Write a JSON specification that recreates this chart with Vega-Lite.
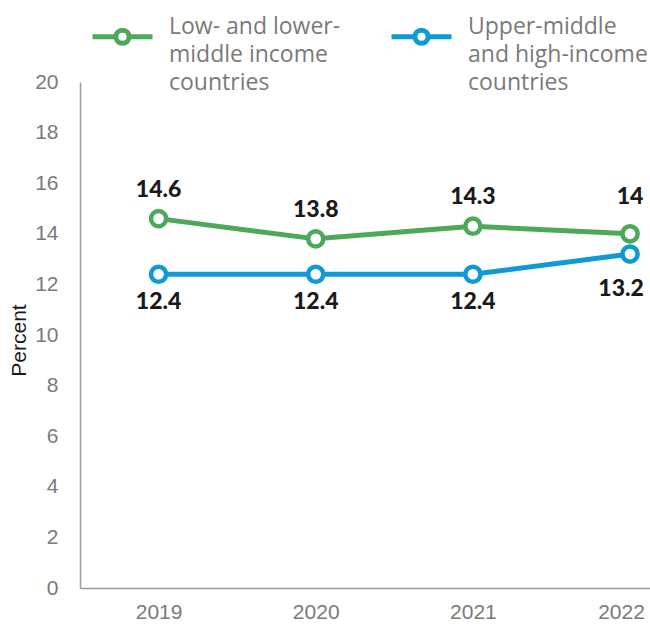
{
  "$schema": "https://vega.github.io/schema/vega-lite/v6.json",
  "width": 570,
  "height": 506,
  "autosize": {"type": "none"},
  "padding": {"left": 80, "top": 82, "right": 0, "bottom": 37},
  "background": "white",
  "config": {
    "view": {"stroke": null}
  },
  "data": {
    "values": [
      {"year": 2019, "series": "Low- and lower-middle income countries", "value": 14.6},
      {"year": 2020, "series": "Low- and lower-middle income countries", "value": 13.8},
      {"year": 2021, "series": "Low- and lower-middle income countries", "value": 14.3},
      {"year": 2022, "series": "Low- and lower-middle income countries", "value": 14.0},
      {"year": 2019, "series": "Upper-middle and high-income countries", "value": 12.4},
      {"year": 2020, "series": "Upper-middle and high-income countries", "value": 12.4},
      {"year": 2021, "series": "Upper-middle and high-income countries", "value": 12.4},
      {"year": 2022, "series": "Upper-middle and high-income countries", "value": 13.2}
    ]
  },
  "encoding": {
    "x": {
      "field": "year",
      "type": "quantitative",
      "scale": {"domain": [2018.5, 2022.127], "nice": false, "zero": false},
      "axis": {
        "values": [2019, 2020, 2021, 2022],
        "format": "d",
        "title": null,
        "grid": false,
        "ticks": false,
        "domainColor": "#9a9a9a",
        "domainWidth": 1.5,
        "labelFont": "Liberation Sans",
        "labelFontSize": 21,
        "labelColor": "#7a7a7a",
        "labelPadding": 13,
        "labelOffset": {"condition": {"test": "datum.value == 2022", "value": -9}, "value": 0}
      }
    },
    "y": {
      "field": "value",
      "type": "quantitative",
      "scale": {"domain": [0, 20], "nice": false},
      "axis": {
        "values": [0, 2, 4, 6, 8, 10, 12, 14, 16, 18, 20],
        "title": "Percent",
        "grid": false,
        "ticks": false,
        "domainColor": "#9a9a9a",
        "domainWidth": 1.5,
        "labelFont": "Liberation Sans",
        "labelFontSize": 21,
        "labelColor": "#7a7a7a",
        "labelPadding": 22,
        "titleFont": "Liberation Sans",
        "titleFontSize": 21,
        "titleFontWeight": "normal",
        "titleColor": "#1a1a1a",
        "titleX": -55,
        "titleY": 258,
        "titleAlign": "center",
        "titleBaseline": "alphabetic"
      }
    },
    "color": {
      "field": "series",
      "type": "nominal",
      "scale": {
        "domain": ["Low- and lower-middle income countries", "Upper-middle and high-income countries"],
        "range": ["#4ea85a", "#0f9ad6"]
      },
      "legend": {
        "orient": "none",
        "legendX": 10,
        "legendY": -78,
        "direction": "horizontal",
        "title": null,
        "symbolType": "M-1,0H-0.22M0.22,0H1M-0.22,0A0.22,0.22 0 1,0 0.22,0A0.22,0.22 0 1,0 -0.22,0Z",
        "symbolSize": 3600,
        "symbolStrokeWidth": 5,
        "labelFont": "Open Sans",
        "labelFontSize": 23,
        "labelColor": "#7a7a7a",
        "labelLimit": 0,
        "labelOffset": 14,
        "labelBaseline": "middle",
        "labelExpr": "datum.label == 'Low- and lower-middle income countries' ? ['Low- and lower-', 'middle income', 'countries'] : ['Upper-middle', 'and high-income', 'countries']",
        "columnPadding": 40,
        "encode": {"labels": {"update": {"dy": {"value": -10}, "lineHeight": {"value": 28}}}}
      }
    }
  },
  "layer": [
    {"mark": {"type": "line", "strokeWidth": 5}},
    {"mark": {"type": "point", "shape": "circle", "filled": false, "fill": "white", "size": 230, "strokeWidth": 4.5, "opacity": 1}},
    {
      "transform": [{"filter": "datum.series == 'Low- and lower-middle income countries' && datum.year < 2022"}],
      "mark": {"type": "text", "font": "Lato", "fontSize": 23, "fontWeight": 900, "dy": -29},
      "encoding": {
        "text": {"field": "value", "type": "quantitative", "format": "~g"},
        "color": {"value": "#1a1a1a"}
      }
    },
    {
      "transform": [{"filter": "datum.series == 'Low- and lower-middle income countries' && datum.year == 2022"}],
      "mark": {"type": "text", "font": "Lato", "fontSize": 23, "fontWeight": 900, "dy": -37},
      "encoding": {
        "text": {"field": "value", "type": "quantitative", "format": "~g"},
        "color": {"value": "#1a1a1a"}
      }
    },
    {
      "transform": [{"filter": "datum.series == 'Upper-middle and high-income countries' && datum.year < 2022"}],
      "mark": {"type": "text", "font": "Lato", "fontSize": 23, "fontWeight": 900, "dy": 28},
      "encoding": {
        "text": {"field": "value", "type": "quantitative", "format": "~g"},
        "color": {"value": "#1a1a1a"}
      }
    },
    {
      "transform": [{"filter": "datum.series == 'Upper-middle and high-income countries' && datum.year == 2022"}],
      "mark": {"type": "text", "font": "Lato", "fontSize": 23, "fontWeight": 900, "dy": 35, "dx": -9},
      "encoding": {
        "text": {"field": "value", "type": "quantitative", "format": "~g"},
        "color": {"value": "#1a1a1a"}
      }
    }
  ]
}
